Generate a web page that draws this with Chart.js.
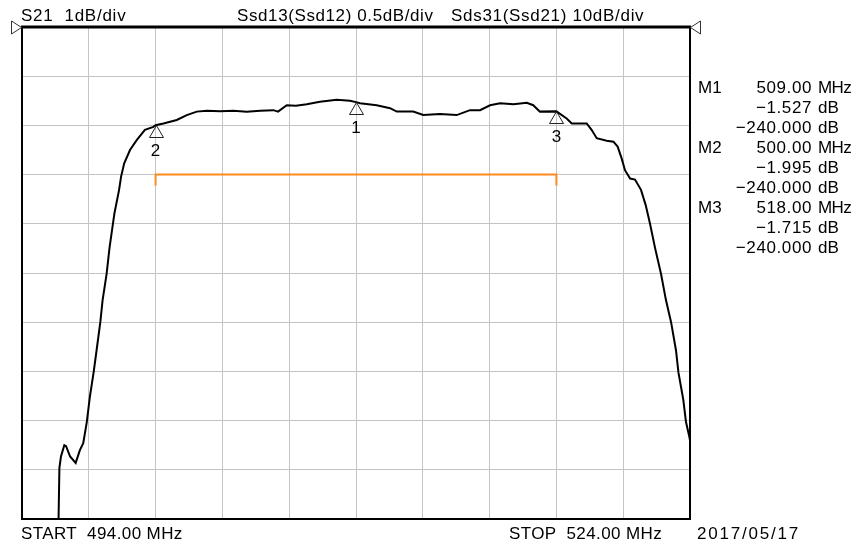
<!DOCTYPE html>
<html>
<head>
<meta charset="utf-8">
<script src="https://cdn.jsdelivr.net/npm/chart.js@4.4.1/dist/chart.umd.min.js"></script>
<style>
  body { margin: 0; background: #fff; }
  #wrap { position: relative; width: 857px; height: 546px; overflow: hidden; }
  .t { position: absolute; font: 17px "Liberation Sans", Arial, sans-serif; line-height: 17px; white-space: pre; color: #000; }
  .r { text-align: right; }
</style>
</head>
<body>
<div id="wrap">
  <canvas id="grafico" width="857" height="546"></canvas>
  <div class="t" style="left:21px;top:7px;letter-spacing:0.75px">S21  1dB/div</div>
  <div class="t" style="left:237px;top:7px;letter-spacing:0.6px">Ssd13(Ssd12) 0.5dB/div</div>
  <div class="t" style="left:451px;top:7px;letter-spacing:0.7px">Sds31(Ssd21) 10dB/div</div>
  <div class="t" style="left:21px;top:525px;letter-spacing:0.4px">START  494.00 MHz</div>
  <div class="t" style="left:509px;top:525px;letter-spacing:0.4px">STOP  524.00 MHz</div>
  <div class="t" style="left:697px;top:525px;letter-spacing:1.8px">2017/05/17</div>
</div>
<script>
// traço S21 (MHz, dB)
const freqMHz = [
  495.62, 495.68, 495.75, 495.90, 495.98, 496.16, 496.41, 496.60, 496.75, 496.91,
  497.05, 497.22, 497.35, 497.52, 497.62, 497.80, 497.93, 498.15, 498.36, 498.45,
  498.59, 498.85, 499.15, 499.52, 499.90, 500.00, 500.35, 500.95, 501.40, 501.85,
  502.30, 502.89, 503.50, 504.09, 504.70, 505.29, 505.50, 505.89, 506.30, 506.79,
  507.38, 508.13, 508.73, 509.00, 509.18, 509.93, 510.53, 510.83, 511.57, 512.02,
  512.77, 513.52, 514.12, 514.57, 515.02, 515.47, 516.07, 516.67, 516.96, 517.26,
  518.00, 518.46, 518.69, 519.36, 519.58, 519.81, 520.26, 520.56, 520.75, 520.93,
  521.08, 521.31, 521.53, 521.80, 522.01, 522.20, 522.43, 522.70, 522.92, 523.15,
  523.37, 523.48, 523.70, 523.82, 523.97, 524.00
];
const s21dB = [
  -10.6, -8.96, -8.73, -8.50, -8.52, -8.73, -8.86, -8.60, -8.46, -8.03,
  -7.51, -7.01, -6.57, -5.99, -5.55, -5.02, -4.49, -3.79, -3.31, -3.04,
  -2.77, -2.50, -2.30, -2.09, -2.03, -1.995, -1.96, -1.89, -1.79, -1.72,
  -1.70, -1.71, -1.70, -1.72, -1.70, -1.69, -1.72, -1.59, -1.60, -1.57,
  -1.52, -1.48, -1.50, -1.527, -1.55, -1.59, -1.65, -1.72, -1.72, -1.79,
  -1.77, -1.79, -1.69, -1.69, -1.59, -1.55, -1.57, -1.54, -1.59, -1.72,
  -1.715, -1.86, -1.96, -1.96, -2.09, -2.26, -2.31, -2.33, -2.43, -2.67,
  -2.91, -3.08, -3.10, -3.31, -3.62, -3.99, -4.49, -5.02, -5.55, -6.00,
  -6.57, -7.02, -7.58, -8.03, -8.33, -8.40
];

// linha limite (laranja)
const limiteFreq = [500, 500, 518, 518];
const limiteDB = [-3.22, -3, -3, -3.22];

// marcadores
const marcadorNome = ['M1', 'M2', 'M3'];
const marcadorFreq = [509.00, 500.00, 518.00];
const marcadorDB = [-1.527, -1.995, -1.715];
const marcadorDB2 = [-240.000, -240.000, -240.000];

const xMin = 494, xMax = 524, xPasso = 3;
const yMin = -10, yMax = 0, yPasso = 1;

const wrap = document.getElementById('wrap');

function addTexto(txt, estilo, cls) {
  const d = document.createElement('div');
  d.className = 't' + (cls ? ' ' + cls : '');
  d.textContent = txt;
  Object.assign(d.style, estilo);
  wrap.appendChild(d);
  return d;
}
const formata = (v, casas) => (v < 0 ? '\u2212' : '') + Math.abs(v).toFixed(casas);

// painel de marcadores
marcadorNome.forEach((nome, i) => {
  const topo = 79 + i * 60;
  const num = { right: '45px', letterSpacing: '0.6px' };
  addTexto(nome, { left: '698px', top: topo + 'px' });
  addTexto(formata(marcadorFreq[i], 2), { ...num, top: topo + 'px' }, 'r');
  addTexto('MHz', { left: '818px', top: topo + 'px', letterSpacing: '-0.6px' });
  addTexto(formata(marcadorDB[i], 3), { ...num, top: (topo + 20) + 'px' }, 'r');
  addTexto('dB', { left: '818px', top: (topo + 20) + 'px' });
  addTexto(formata(marcadorDB2[i], 3), { ...num, top: (topo + 40) + 'px' }, 'r');
  addTexto('dB', { left: '818px', top: (topo + 40) + 'px' });
});

const moldura = {
  id: 'moldura',
  afterDraw(chart) {
    const { ctx, chartArea: a, scales } = chart;
    ctx.save();
    ctx.strokeStyle = '#000';
    ctx.lineWidth = 2;
    ctx.strokeRect(a.left, a.top, a.right - a.left, a.bottom - a.top);
    ctx.lineWidth = 3;
    ctx.beginPath();
    ctx.moveTo(a.left - 1, a.top);
    ctx.lineTo(a.right + 1, a.top);
    ctx.stroke();

    // posição de referência
    const yRef = scales.y.getPixelForValue(0);
    ctx.lineWidth = 1;
    ctx.strokeStyle = '#333';
    ctx.fillStyle = '#fff';
    ctx.beginPath();
    ctx.moveTo(a.left - 10.5, yRef - 6);
    ctx.lineTo(a.left - 0.5, yRef + 0.5);
    ctx.lineTo(a.left - 10.5, yRef + 7);
    ctx.closePath();
    ctx.fill(); ctx.stroke();
    ctx.beginPath();
    ctx.moveTo(a.right + 10.5, yRef - 6);
    ctx.lineTo(a.right + 0.5, yRef + 0.5);
    ctx.lineTo(a.right + 10.5, yRef + 7);
    ctx.closePath();
    ctx.fill(); ctx.stroke();

    // triângulos dos marcadores
    ctx.strokeStyle = '#222';
    marcadorFreq.forEach((f, i) => {
      const px = Math.round(scales.x.getPixelForValue(f)) + 0.5;
      const py = Math.round(scales.y.getPixelForValue(marcadorDB[i])) + 0.5;
      ctx.beginPath();
      ctx.moveTo(px, py);
      ctx.lineTo(px + 7, py + 12);
      ctx.lineTo(px - 7, py + 12);
      ctx.closePath();
      ctx.stroke();
    });
    ctx.restore();
  }
};

const grafico = new Chart(document.getElementById('grafico'), {
  type: 'scatter',
  data: {
    datasets: [
      {
        data: freqMHz.map((f, i) => ({ x: f, y: s21dB[i] })),
        showLine: true,
        borderColor: '#000',
        borderWidth: 2,
        pointRadius: 0,
        tension: 0
      },
      {
        data: limiteFreq.map((f, i) => ({ x: f, y: limiteDB[i] })),
        showLine: true,
        borderColor: '#ff8a1e',
        borderWidth: 2,
        pointRadius: 0,
        tension: 0
      }
    ]
  },
  options: {
    responsive: false,
    animation: false,
    layout: { padding: { left: 22, top: 27, right: 167, bottom: 27 } },
    plugins: { legend: { display: false }, tooltip: { enabled: false } },
    scales: {
      x: {
        type: 'linear', min: xMin, max: xMax,
        ticks: { display: false, stepSize: xPasso },
        grid: { color: '#c4c4c4', lineWidth: 1, drawTicks: false },
        border: { display: false }
      },
      y: {
        type: 'linear', min: yMin, max: yMax,
        ticks: { display: false, stepSize: yPasso },
        grid: { color: '#c4c4c4', lineWidth: 1, drawTicks: false },
        border: { display: false }
      }
    }
  },
  plugins: [moldura]
});

// números dos marcadores abaixo dos triângulos
marcadorFreq.forEach((f, i) => {
  const px = grafico.scales.x.getPixelForValue(f);
  const py = grafico.scales.y.getPixelForValue(marcadorDB[i]);
  addTexto(String(i + 1), { left: (px - 20) + 'px', width: '40px', textAlign: 'center', top: (py + 17) + 'px' });
});
</script>
</body>
</html>
